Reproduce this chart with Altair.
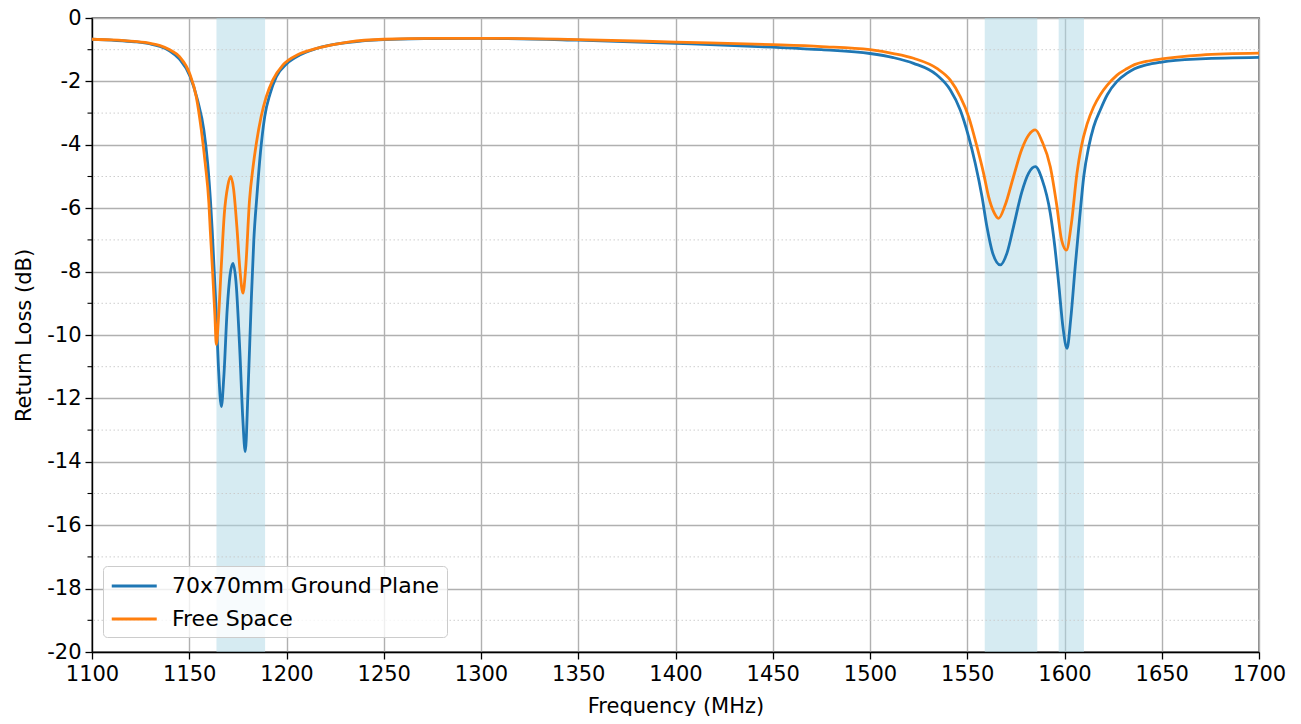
import altair as alt
import pandas as pd

# ---- data ----
freq_gp = [1100, 1110, 1122, 1130, 1135, 1140, 1145, 1150.5, 1154.3, 1157.5, 1159.5,
           1161, 1161.8, 1163.5, 1165, 1166.5, 1167.8, 1169.5, 1171, 1172.5,
           1174, 1176, 1177.5, 1178.8, 1180.2, 1181.9, 1183.2, 1184.8, 1186.6, 1188.8,
           1191.5, 1194.8, 1200, 1206.8, 1215, 1232, 1250, 1275, 1300, 1350, 1400,
           1450, 1475, 1500, 1512, 1522.4, 1534.4, 1541.3, 1546.4, 1550.7, 1554.1,
           1557.6, 1560.1, 1563, 1567, 1570.5, 1573.8, 1578, 1581.5, 1585, 1588.5,
           1592.7, 1595, 1597, 1599.3, 1601.3, 1603.2, 1605.5, 1607.8, 1609.9, 1612.5,
           1615, 1618.4, 1622, 1627, 1632, 1636, 1642, 1650, 1670, 1700]
rl_gp = [-0.67, -0.70, -0.75, -0.82, -0.90, -1.04, -1.30, -1.85, -2.6, -3.53, -4.6,
         -5.85, -6.69, -8.8, -11.0, -12.26, -11.3, -9.2, -8.1, -7.74,
         -8.3, -10.5, -12.6, -13.68, -11.8, -8.9, -7.0, -5.6, -4.25, -3.11,
         -2.4, -1.85, -1.45, -1.17, -0.97, -0.77, -0.68, -0.65, -0.64, -0.70, -0.80,
         -0.92, -1.0, -1.12, -1.25, -1.43, -1.8, -2.27, -2.9, -3.74, -4.58,
         -5.64, -6.58, -7.4, -7.79, -7.4, -6.58, -5.5, -4.9, -4.69, -5.1,
         -6.16, -7.2, -8.37, -9.8, -10.42, -9.5, -7.84, -6.3, -5.0, -4.05,
         -3.43, -2.9, -2.42, -2.0, -1.75, -1.6, -1.48, -1.39, -1.29, -1.24]

freq_fs = [1100, 1110, 1122, 1130, 1135, 1140, 1145, 1150.2, 1153.6, 1156.2, 1158.2,
           1160.1, 1160.8, 1162, 1163.2, 1163.9, 1165, 1166.5, 1168, 1169.8, 1171.3, 1172.8,
           1174.5, 1176, 1177.6, 1179, 1181, 1182.8, 1184.5, 1187, 1189.6, 1193,
           1198.2, 1206, 1215.4, 1232.5, 1250, 1275, 1300, 1350, 1400, 1450, 1475,
           1500, 1512, 1522.4, 1534.4, 1541.3, 1546.4, 1550.7, 1555, 1558.4, 1561,
           1563.5, 1566.1, 1569.5, 1573.8, 1578, 1581.5, 1585, 1588.5, 1592.7, 1596,
           1598.5, 1601, 1603.5, 1606.4, 1608.5, 1611.6, 1615, 1618.4, 1622, 1627,
           1632, 1636, 1642, 1650, 1670, 1700]
rl_fs = [-0.67, -0.69, -0.74, -0.80, -0.87, -1.0, -1.22, -1.75, -2.48, -3.53, -4.58,
         -5.85, -6.69, -8.0, -9.4, -10.3, -9.5, -7.8, -6.2, -5.3, -5.0, -5.4,
         -6.6, -7.9, -8.68, -7.9, -5.74, -4.7, -3.95, -3.1, -2.48, -1.95,
         -1.48, -1.15, -0.96, -0.75, -0.67, -0.64, -0.64, -0.68, -0.76, -0.84, -0.9,
         -1.0, -1.12, -1.27, -1.59, -1.96, -2.48, -3.11, -4.06, -4.9, -5.64,
         -6.1, -6.32, -5.9, -5.0, -4.15, -3.7, -3.53, -3.9, -4.69, -5.9,
         -7.0, -7.32, -6.5, -4.9, -4.1, -3.35, -2.8, -2.42, -2.12, -1.8,
         -1.6, -1.47, -1.37, -1.29, -1.17, -1.11]

series_names = ["70x70mm Ground Plane", "Free Space"]
series_colors = ["#1f77b4", "#ff7f0e"]

band_start = [1164, 1559, 1597]
band_end = [1189, 1586, 1610]

x_ticks = list(range(1100, 1701, 50))
y_ticks = list(range(-20, 1, 2))
y_minor = list(range(-19, 0, 2))

# ---- tables ----
df = pd.concat([
    pd.DataFrame({"f": freq_gp, "rl": rl_gp, "series": series_names[0], "order": 0}),
    pd.DataFrame({"f": freq_fs, "rl": rl_fs, "series": series_names[1], "order": 1}),
])
bands_df = pd.DataFrame({"start": band_start, "end": band_end})
minor_df = pd.DataFrame({"v": y_minor})

W, H = 1167, 634
FONT = "DejaVu Sans"
FS = 21

xs = alt.Scale(domain=[1100, 1700], nice=False, zero=False)
ys = alt.Scale(domain=[-20, 0], nice=False, zero=False)

xaxis = alt.Axis(values=x_ticks, title="Frequency (MHz)", grid=True,
                 labelExpr="'' + datum.value", labelFlush=False, labelOverlap=False)
yaxis = alt.Axis(values=y_ticks, title="Return Loss (dB)", grid=True,
                 labelExpr="'' + datum.value", labelFlush=False, labelOverlap=False)

bands = alt.Chart(bands_df).mark_rect(color="#add8e6", opacity=0.5).encode(
    x=alt.X("start:Q", scale=xs, axis=xaxis),
    x2="end:Q",
    y=alt.value(0),
    y2=alt.value(H),
)

minor_grid = alt.Chart(minor_df).mark_rule(
    color="#c8c8c8", strokeWidth=0.9, strokeDash=[1.5, 2.5]
).encode(y=alt.Y("v:Q", scale=ys, axis=yaxis))

minor_ticks = alt.Chart(minor_df).mark_rule(
    color="black", strokeWidth=1.1, clip=False
).encode(
    y=alt.Y("v:Q", scale=ys, axis=yaxis),
    x=alt.value(-4.5),
    x2=alt.value(0),
)

lines = alt.Chart(df).mark_line(strokeWidth=2.8, interpolate="monotone").encode(
    x=alt.X("f:Q", scale=xs, axis=xaxis),
    y=alt.Y("rl:Q", scale=ys, axis=yaxis),
    color=alt.Color(
        "series:N",
        scale=alt.Scale(domain=series_names, range=series_colors),
        legend=alt.Legend(
            orient="none", legendX=11, legendY=548, title=None,
            symbolType="M-1,0H3", symbolSize=506, symbolStrokeWidth=2.8,
            labelFontSize=22, labelFont=FONT, labelColor="black", labelOffset=36,
            labelLimit=0,
            fillColor="rgba(255,255,255,0.8)", strokeColor="#cccccc",
            cornerRadius=4, padding=7, rowPadding=9,
        ),
    ),
    order="order:Q",
    detail="series:N",
)

chart = alt.layer(bands, minor_grid, minor_ticks, lines).properties(
    width=W, height=H,
    autosize=alt.AutoSizeParams(type="none"),
    padding={"left": 84, "top": 10, "right": 34, "bottom": 64},
).configure_view(
    stroke="black", strokeWidth=1.3
).configure_axis(
    labelFont=FONT, labelFontSize=FS, labelColor="black",
    titleFont=FONT, titleFontSize=FS, titleFontWeight="normal", titleColor="black",
    domainColor="black", domainWidth=1.3,
    tickColor="black", tickSize=7, tickWidth=1.3,
    gridColor="#b0b0b0", gridWidth=1.4,
    labelPadding=4,
).configure_axisY(
    titlePadding=12,
).configure_axisX(
    titlePadding=11,
)

chart.save("out.html", embed_options={"renderer": "svg", "actions": False})
